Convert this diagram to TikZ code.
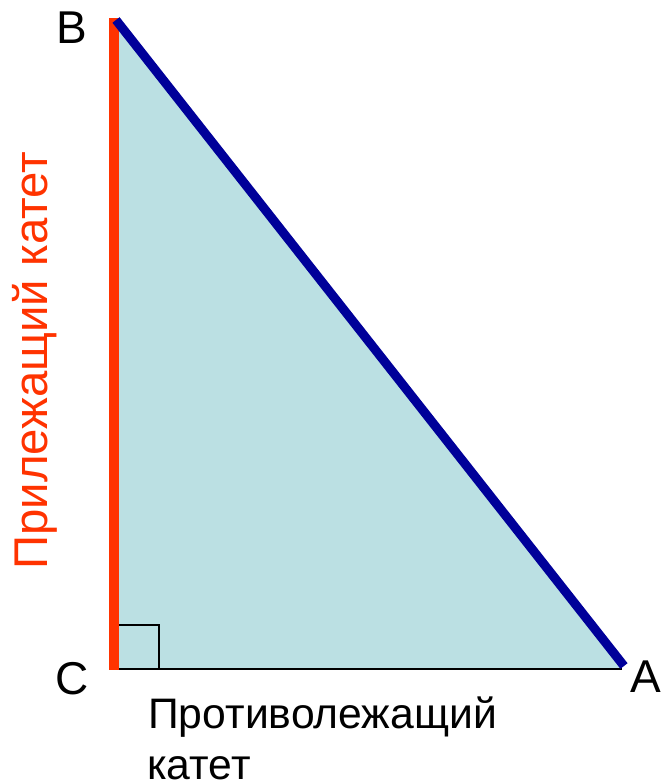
\documentclass[tikz,border=0pt]{standalone}
\usepackage{fontspec}
\setmainfont{Liberation Sans}
\definecolor{legred}{HTML}{FF3300}
\definecolor{hypblue}{HTML}{000099}
\definecolor{trifill}{HTML}{BBE0E3}
\begin{document}
\begin{tikzpicture}[x=0.75pt,y=-0.75pt]
\tikzset{lbl/.style={inner sep=0pt,font=\fontsize{32}{40}\selectfont},
  vtx/.style={inner sep=0pt,font=\fontsize{34.5}{40}\selectfont}}
\useasboundingbox (0,0) rectangle (662,783);
\coordinate (B) at (116,20);
\coordinate (C) at (114,669);
\coordinate (A) at (624,666);
\coordinate (Cb) at (116,669);
\coordinate (Ae) at (622,669);
\fill[trifill] (B) -- (Cb) -- (Ae) -- cycle;
\draw[line width=1.5pt] (113,669) -- (Ae);
\draw[line width=1.2pt] (113,625) -- (159,625) -- (159,669);
\draw[legred,line width=6.8pt] (114,18) -- (114,670);
\draw[hypblue,line width=6.8pt] (B) -- (A);
\node[vtx,anchor=base west] (lB) at (56,43) {B};
\node[vtx,anchor=base west] (lC) at (55,694) {C};
\node[vtx,anchor=base west] (lA) at (630,692) {A};
\node[vtx,anchor=base west,rotate=90,text=legred,font=\fontsize{35.5}{40}\selectfont] (lleg) at (47,570) {Прилежащий катет};
\node[lbl,anchor=base west] (lop1) at (148,728) {Противолежащий};
\node[lbl,anchor=base west] (lop2) at (147,779) {катет};
\end{tikzpicture}
\end{document}
